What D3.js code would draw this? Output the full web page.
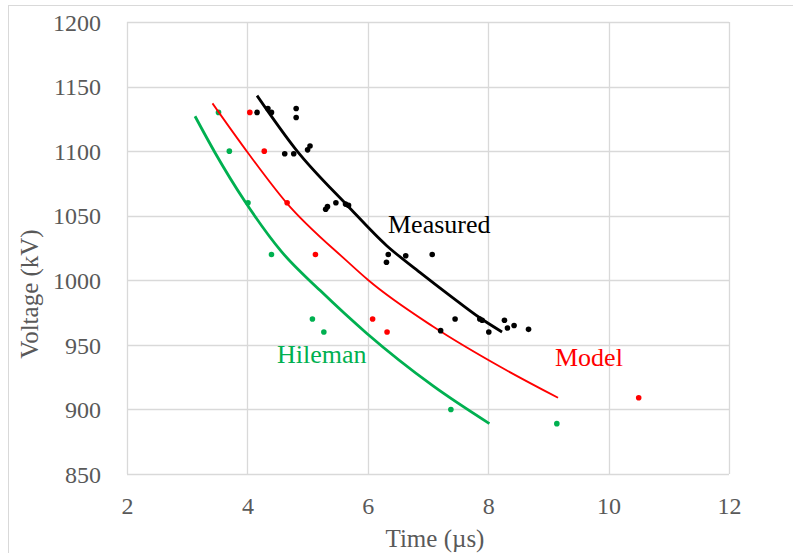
<!DOCTYPE html>
<html>
<head>
<meta charset="utf-8">
<script src="https://cdn.jsdelivr.net/npm/d3@7"></script>
<style>
    html, body { margin: 0; padding: 0; background: #fff; }
</style>
</head>
<body>
<div class="chart"></div>
<script>
// tick values
const xTicks = [2, 4, 6, 8, 10, 12];
const yTicks = [850, 900, 950, 1000, 1050, 1100, 1150, 1200];

// measured points (time us, voltage kV)
const measuredTime = [4.16, 4.34, 4.40, 4.81, 4.81, 4.62, 4.77, 5.00, 5.04, 5.30, 5.33, 5.47, 5.63, 5.68,
    6.31, 6.34, 6.63, 7.07, 7.21, 7.45, 7.86, 7.90, 8.01, 8.27, 8.32, 8.43, 8.67];
const measuredVolt = [1130, 1133, 1130, 1133, 1126, 1098, 1098, 1101, 1104, 1055, 1057, 1060, 1059, 1058,
    1014, 1020, 1019, 1020, 961, 970, 970, 969, 960, 969, 963, 965, 962];

// model points
const modelTime = [4.04, 4.28, 4.66, 5.13, 6.08, 6.32, 10.5];
const modelVolt = [1130, 1100, 1060, 1020, 970, 960, 909];

// hileman points
const hilemanTime = [3.52, 3.70, 4.01, 4.40, 5.08, 5.27, 7.38, 9.14];
const hilemanVolt = [1130, 1100, 1060, 1020, 970, 960, 900, 889];

// fitted curves
const measuredCurveTime = [4.16, 4.81, 5.68, 6.31, 6.87, 7.37, 7.86, 8.23];
const measuredCurveVolt = [1143, 1101, 1057, 1027, 1006, 988, 971, 960];
const modelCurveTime = [3.42, 4.02, 4.65, 5.65, 6.01, 7.09, 8.20, 9.16];
const modelCurveVolt = [1137, 1098, 1060, 1015, 1000, 964, 933, 909];
const hilemanCurveTime = [3.13, 3.46, 3.96, 4.57, 5.21, 5.98, 7.09, 8.02];
const hilemanCurveVolt = [1127, 1099, 1061, 1022, 992, 959, 918, 889];

const zip = (ts, vs) => ts.map((t, i) => ({t: t, v: vs[i]}));

const serif = '"Liberation Serif", "Times New Roman", serif';
const width = 793, height = 553;
const margin = {top: 22, right: 64, bottom: 79, left: 127};

const x = d3.scaleLinear().domain([2, 12]).range([margin.left, width - margin.right]);
const y = d3.scaleLinear().domain([850, 1200]).range([height - margin.bottom, margin.top]);

const svg = d3.select('.chart').append('svg')
    .attr('width', width)
    .attr('height', height);

// outer chart border (only top/left edges fall inside the frame)
svg.append('rect')
    .attr('x', 8.5).attr('y', 5.5)
    .attr('width', width + 20).attr('height', height + 20)
    .attr('fill', 'none')
    .attr('stroke', '#d9d9d9');

// gridlines
svg.append('g')
    .selectAll('line')
    .data(yTicks)
    .join('line')
    .attr('x1', x(2)).attr('x2', x(12))
    .attr('y1', d => Math.round(y(d)) + 0.5).attr('y2', d => Math.round(y(d)) + 0.5)
    .attr('stroke', '#d9d9d9').attr('stroke-width', 1.3);

svg.append('g')
    .selectAll('line')
    .data(xTicks)
    .join('line')
    .attr('x1', d => Math.round(x(d)) + 0.5).attr('x2', d => Math.round(x(d)) + 0.5)
    .attr('y1', y(850)).attr('y2', y(1200))
    .attr('stroke', '#d9d9d9').attr('stroke-width', 1.3);

// axes - d3 axes for the tick labels only, no domain/tick lines
const xAxis = svg.append('g')
    .attr('transform', 'translate(0,' + y(850) + ')')
    .call(d3.axisBottom(x).tickValues(xTicks).tickFormat(d3.format('d')).tickSize(0).tickPadding(0));

const yAxis = svg.append('g')
    .attr('transform', 'translate(' + x(2) + ',0)')
    .call(d3.axisLeft(y).tickValues(yTicks).tickFormat(d3.format('d')).tickSize(0).tickPadding(0));

[xAxis, yAxis].forEach(ax => {
    ax.select('.domain').remove();
    ax.attr('font-family', serif).attr('font-size', 24);
    ax.selectAll('text')
        .attr('fill', '#595959')
        .style('font-family', serif)
        .style('font-size', '24px');
});

xAxis.selectAll('text').attr('y', 40).attr('dy', null);
yAxis.selectAll('text').attr('x', -26).attr('dy', '0.34em');

// axis titles
svg.append('text')
    .attr('x', 435).attr('y', 547)
    .attr('text-anchor', 'middle')
    .attr('fill', '#595959')
    .style('font-family', serif).style('font-size', '25px')
    .text('Time (µs)');

svg.append('text')
    .attr('transform', 'translate(38,294) rotate(-90)')
    .attr('text-anchor', 'middle')
    .attr('fill', '#595959')
    .style('font-family', serif).style('font-size', '25px')
    .text('Voltage (kV)');

const line = d3.line()
    .curve(d3.curveMonotoneX)
    .x(d => x(d.t))
    .y(d => y(d.v));

const series = [
    {name: 'Hileman', color: '#00b050', width: 2.8, pts: zip(hilemanTime, hilemanVolt), curve: zip(hilemanCurveTime, hilemanCurveVolt)},
    {name: 'Model', color: '#ff0000', width: 1.8, pts: zip(modelTime, modelVolt), curve: zip(modelCurveTime, modelCurveVolt)},
    {name: 'Measured', color: '#000000', width: 2.8, pts: zip(measuredTime, measuredVolt), curve: zip(measuredCurveTime, measuredCurveVolt)}
];

series.forEach(s => {
    svg.append('path')
        .datum(s.curve)
        .attr('fill', 'none')
        .attr('stroke', s.color)
        .attr('stroke-width', s.width)
        .attr('d', line);

    svg.append('g')
        .selectAll('circle')
        .data(s.pts)
        .join('circle')
        .attr('cx', d => x(d.t))
        .attr('cy', d => y(d.v))
        .attr('r', 2.8)
        .attr('fill', s.color);
});

// series labels
const labels = [
    {text: 'Measured', x: 388, y: 233, color: '#000000'},
    {text: 'Hileman', x: 277, y: 363, color: '#00b050'},
    {text: 'Model', x: 555, y: 366, color: '#ff0000'}
];
svg.append('g')
    .selectAll('text')
    .data(labels)
    .join('text')
    .attr('x', d => d.x).attr('y', d => d.y)
    .attr('fill', d => d.color)
    .style('font-family', serif).style('font-size', '26px')
    .text(d => d.text);
</script>
</body>
</html>
